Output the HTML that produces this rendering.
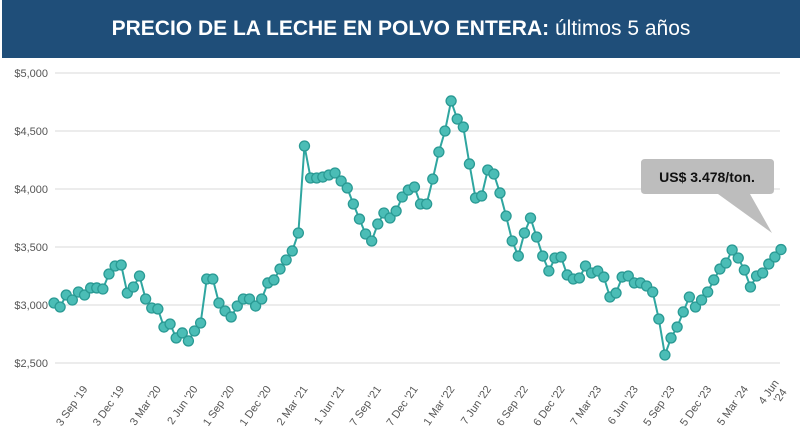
<!DOCTYPE html>
<html><head><meta charset="utf-8"><style>
body{margin:0;width:800px;height:436px;background:#fff;overflow:hidden;font-family:"Liberation Sans",sans-serif}
#title{position:absolute;left:2px;top:0;width:798px;height:58px;background:#1f4e79;color:#fff;font-size:21px;line-height:58px;text-align:center}
</style></head><body>
<div id="title"><b>PRECIO DE LA LECHE EN POLVO ENTERA:</b> últimos 5 años</div>
<svg id="c" width="800" height="436" style="position:absolute;left:0;top:0"></svg>
<script>
const prices=[3017,2983,3086,3043,3112,3086,3147,3147,3138,3267,3336,3345,3103,3155,3250,3052,2974,2966,2810,2836,2716,2759,2690,2776,2845,3224,3224,3017,2948,2897,2991,3052,3052,2991,3052,3190,3216,3310,3388,3466,3621,4371,4095,4095,4103,4121,4138,4069,4009,3871,3741,3612,3552,3698,3793,3750,3810,3931,3991,4017,3871,3871,4086,4319,4500,4759,4603,4534,4216,3922,3940,4164,4129,3966,3767,3552,3422,3621,3750,3586,3422,3293,3405,3414,3259,3224,3233,3336,3276,3293,3241,3069,3103,3241,3250,3190,3190,3164,3112,2879,2569,2716,2810,2940,3069,2983,3043,3112,3216,3310,3362,3474,3405,3302,3155,3250,3276,3353,3414,3478];
const yTicks=[2500,3000,3500,4000,4500,5000];
const yLabels=["$2,500","$3,000","$3,500","$4,000","$4,500","$5,000"];
const xLabels=["3 Sep '19","3 Dec '19","3 Mar '20","2 Jun '20","1 Sep '20","1 Dec '20","2 Mar '21","1 Jun '21","7 Sep '21","7 Dec '21","1 Mar '22","7 Jun '22","6 Sep '22","6 Dec '22","7 Mar '23","6 Jun '23","5 Sep '23","5 Dec '23","5 Mar '24","4 Jun '24"];
const ns="http://www.w3.org/2000/svg",svg=document.getElementById('c');
const X0=54,X1=781,yv=v=>73+(5000-v)*0.116,xi=i=>X0+i*(X1-X0)/(prices.length-1);
function mk(t,a,p){const e=document.createElementNS(ns,t);for(const k in a)e.setAttribute(k,a[k]);(p||svg).appendChild(e);return e;}
yTicks.forEach((v,i)=>{
 const l=mk('line',{x1:55,x2:780,y1:yv(v),y2:yv(v),stroke:'#e0e0e0','stroke-width':1.3});
 
 
 const t=mk('text',{x:48,y:yv(v)+4,'text-anchor':'end','font-size':11,fill:'#555'});
 t.textContent=yLabels[i];
 
 
});
xLabels.forEach((s,i)=>{
 const x=88+i*36.7,y=389;
 const t=mk('text',{x:x,y:y,'text-anchor':'end','font-size':11,fill:'#555',transform:`rotate(-55 ${x} ${y})`});
 if(s==="4 Jun '24"){
  t.setAttribute('x',x-6);t.setAttribute('y',y-6);t.setAttribute('transform',`rotate(-55 ${x-6} ${y-6})`);
  t.textContent="4 Jun";
  const t2=mk('text',{x:x+2,y:y+3,'text-anchor':'end','font-size':11,fill:'#555',transform:`rotate(-55 ${x+2} ${y+3})`});
  t2.textContent="'24";
  
  }
 else t.textContent=s;
 
 
});
const line=mk('polyline',{points:prices.map((v,i)=>xi(i)+','+yv(v)).join(' '),fill:'none',stroke:'#2fa6a0','stroke-width':2});


prices.forEach((v,i)=>{
 const c=mk('circle',{cx:xi(i),cy:yv(v),r:5,fill:'#4bbdb6',stroke:'#2a9a94','stroke-width':1.3});
 
 
});
const g=mk('g',{});


mk('path',{d:'M645 159 Q641 159 641 163 L641 190 Q641 194 645 194 L718 194 L772 233 L750 194 L770 194 Q774 194 774 190 L774 163 Q774 159 770 159 Z',fill:'#bdbdbd'},g);
const ct=mk('text',{x:707,y:182,'text-anchor':'middle','font-size':14,'font-weight':'bold',fill:'#111'},g);
ct.textContent="US$ 3.478/ton.";
</script>
</body></html>
